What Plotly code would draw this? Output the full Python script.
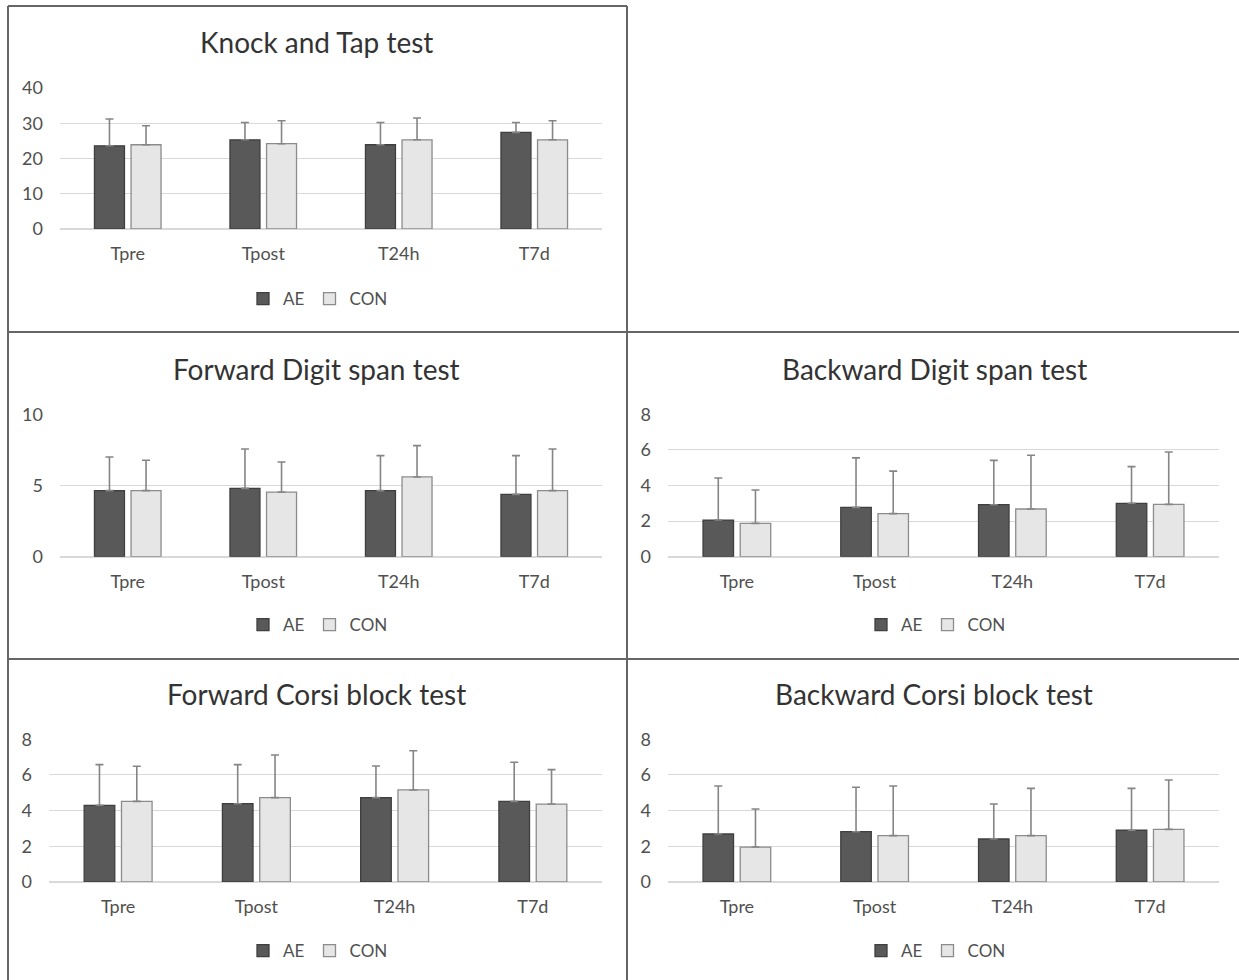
import plotly.graph_objects as go

# Time points shared by every test
timepoints = ["Tpre", "Tpost", "T24h", "T7d"]

# Knock and Tap test
knock_ae_mean = [23.6, 25.3, 23.9, 27.4]
knock_ae_sd = [7.6, 4.9, 6.3, 2.8]
knock_con_mean = [23.9, 24.2, 25.3, 25.3]
knock_con_sd = [5.4, 6.5, 6.2, 5.4]

# Forward Digit span test
fds_ae_mean = [4.64, 4.80, 4.64, 4.38]
fds_ae_sd = [2.36, 2.76, 2.46, 2.72]
fds_con_mean = [4.64, 4.54, 5.60, 4.64]
fds_con_sd = [2.13, 2.11, 2.20, 2.92]

# Backward Digit span test
bds_ae_mean = [2.06, 2.77, 2.92, 3.00]
bds_ae_sd = [2.36, 2.78, 2.49, 2.06]
bds_con_mean = [1.87, 2.42, 2.68, 2.94]
bds_con_sd = [1.88, 2.39, 3.02, 2.94]

# Forward Corsi block test
fcb_ae_mean = [4.30, 4.39, 4.73, 4.52]
fcb_ae_sd = [2.28, 2.19, 1.77, 2.19]
fcb_con_mean = [4.52, 4.73, 5.16, 4.37]
fcb_con_sd = [1.97, 2.39, 2.20, 1.93]

# Backward Corsi block test
bcb_ae_mean = [2.69, 2.82, 2.41, 2.90]
bcb_ae_sd = [2.69, 2.49, 1.96, 2.35]
bcb_con_mean = [1.96, 2.60, 2.60, 2.95]
bcb_con_sd = [2.13, 2.78, 2.65, 2.77]

W, H = 1239, 980
FONT = "Lato, 'Open Sans', sans-serif"
AE_FILL, AE_LINE = "#595959", "#3f3f3f"
CON_FILL, CON_LINE = "#e7e6e6", "#8c8c8c"
ERR_COLOR = "#858585"
GRID = "#d9d9d9"
TEXT = "#333333"
TICK = "#505050"


def px_x(x):
    return x / W


def px_y(y):
    return 1 - y / H


# title, data, y range, y step, plot box (left, right, top, bottom px), title pos, legend pos
panels = [
    dict(title="Knock and Tap test",
         ae=(knock_ae_mean, knock_ae_sd), con=(knock_con_mean, knock_con_sd),
         yr=[0, 40], dt=10, box=(60, 602, 88, 229), tpos=(316, 42), lpos=(318, 299)),
    dict(title="Forward Digit span test",
         ae=(fds_ae_mean, fds_ae_sd), con=(fds_con_mean, fds_con_sd),
         yr=[0, 10], dt=5, box=(60, 602, 414.3, 556.7), tpos=(316, 369), lpos=(318, 625)),
    dict(title="Backward Digit span test",
         ae=(bds_ae_mean, bds_ae_sd), con=(bds_con_mean, bds_con_sd),
         yr=[0, 8], dt=2, box=(668, 1219, 414.3, 556.7), tpos=(934, 369), lpos=(936, 625)),
    dict(title="Forward Corsi block test",
         ae=(fcb_ae_mean, fcb_ae_sd), con=(fcb_con_mean, fcb_con_sd),
         yr=[0, 8], dt=2, box=(49, 602, 739.3, 882), tpos=(316, 694), lpos=(318, 951)),
    dict(title="Backward Corsi block test",
         ae=(bcb_ae_mean, bcb_ae_sd), con=(bcb_con_mean, bcb_con_sd),
         yr=[0, 8], dt=2, box=(668, 1219, 739.3, 882), tpos=(934, 694), lpos=(936, 951)),
]

fig = go.Figure()
layout = dict(
    width=W, height=H,
    margin=dict(l=0, r=0, t=0, b=0, autoexpand=False),
    paper_bgcolor="white", plot_bgcolor="white",
    barmode="group", bargap=0.46, bargroupgap=0.18,
    font=dict(family=FONT, color=TICK),
    annotations=[], shapes=[],
)

for i, p in enumerate(panels, start=1):
    xa = "x" if i == 1 else f"x{i}"
    ya = "y" if i == 1 else f"y{i}"
    lg = "legend" if i == 1 else f"legend{i}"
    for name, (mean, sd), fill, line in (
        ("AE", p["ae"], AE_FILL, AE_LINE),
        ("CON", p["con"], CON_FILL, CON_LINE),
    ):
        fig.add_trace(go.Bar(
            x=timepoints, y=mean, name=name,
            xaxis=xa, yaxis=ya, legend=lg,
            marker=dict(color=fill, line=dict(color=line, width=1.3)),
            error_y=dict(type="data", array=sd, symmetric=False,
                         arrayminus=[0] * len(sd),
                         color=ERR_COLOR, thickness=1.6, width=4),
        ))
    l, r, t, b = p["box"]
    layout[f"xaxis{'' if i == 1 else i}"] = dict(
        domain=[px_x(l), px_x(r)], anchor=ya,
        showgrid=False, showline=False, zeroline=False, ticks="",
        ticklabelstandoff=12,
        tickfont=dict(family=FONT, size=18, color=TICK),
        fixedrange=True,
    )
    layout[f"yaxis{'' if i == 1 else i}"] = dict(
        domain=[px_y(b), px_y(t)], anchor=xa,
        range=p["yr"], dtick=p["dt"], tick0=0,
        showgrid=True, gridcolor=GRID, gridwidth=1.3,
        zeroline=True, zerolinecolor=GRID, zerolinewidth=1.6,
        showline=False, ticks="", ticklabelstandoff=16,
        tickfont=dict(family=FONT, size=18, color=TICK),
        fixedrange=True,
    )
    lx, ly = p["lpos"]
    layout[lg] = dict(
        orientation="h", x=px_x(lx), y=px_y(ly),
        xanchor="center", yanchor="middle",
        font=dict(family=FONT, size=17, color=TICK),
        itemwidth=30, bgcolor="rgba(0,0,0,0)",
        traceorder="normal",
    )
    tx, ty = p["tpos"]
    layout["annotations"].append(dict(
        text=p["title"], x=px_x(tx), y=px_y(ty),
        xref="paper", yref="paper", xanchor="center", yanchor="middle",
        showarrow=False, font=dict(family=FONT, size=28, color=TEXT),
    ))

# Panel frames
frame = dict(type="line", xref="paper", yref="paper",
             line=dict(color="#666666", width=2))
for x0, y0, x1, y1 in [
    (8, 6, 627, 6),        # top of first panel
    (8, 6, 8, 980),        # left edge
    (627, 6, 627, 980),    # column divider
    (8, 332, 1239, 332),   # first row divider
    (8, 659, 1239, 659),   # second row divider
]:
    layout["shapes"].append(dict(frame, x0=px_x(x0), y0=px_y(y0),
                                 x1=px_x(x1), y1=px_y(y1)))

fig.update_layout(**layout)
fig.write_html("out.html")
